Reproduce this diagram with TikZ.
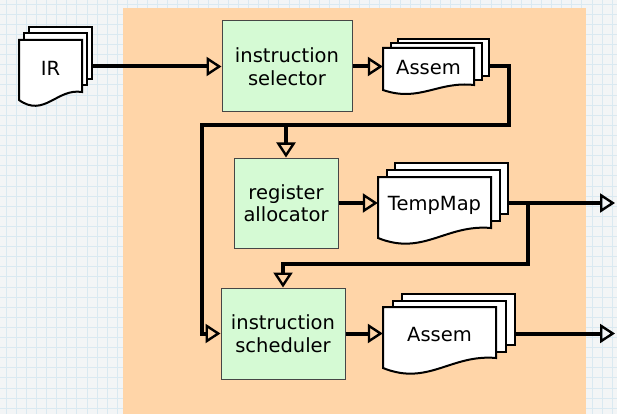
\documentclass[tikz,border=0pt]{standalone}
\usepackage{fontspec}
\setmainfont{DejaVu Sans}
\usetikzlibrary{arrows.meta,calc}
\definecolor{bgc}{RGB}{243,245,246}
\definecolor{gridc}{RGB}{218,233,241}
\definecolor{panel}{RGB}{255,213,168}
\definecolor{boxg}{RGB}{213,250,212}
\definecolor{boxb}{RGB}{70,70,70}
\tikzset{
  proc/.style={draw=boxb, line width=1pt, fill=boxg, align=center, inner sep=0pt, font=\fontsize{19.5}{22.5}\selectfont},
  docpage/.style={draw=black, line width=2pt, fill=white, line join=miter},
  doctext/.style={inner sep=0pt, font=\fontsize{19.5}{22.5}\selectfont},
  flow/.style={line width=4pt, draw=black, line join=miter, -{Triangle[open, length=15pt, width=19pt, line width=2.4pt]}},
}
\newcommand\docstack[9]{%
  \draw[docpage] ({#2+2*#7},{#3-2*#8}) rectangle ({#2+#4+2*#7},{#6-2*#8});
  \draw[docpage] ({#2+#7},{#3-#8}) rectangle ({#2+#4+#7},{#6-#8});
  \draw[docpage] (#2,#3) -- ({#2+#4},#3) -- ({#2+#4},#6) .. controls ({#2+0.6*#4},{#6-4}) and ({#2+0.4*#4},{#5+0.3*(#5-#3)}) .. (#2,#5) -- cycle;
  \node[doctext, minimum width={#4*1pt}, minimum height={((#5+#6)/2-#3)*1pt}] (#1) at ({#2+#4/2},{(#3+(#5+#6)/2)/2}) {#9};
  \coordinate (#1-r) at ({#2+#4+2*#7},{(#3+(#5+#6)/2)/2});
}
\begin{document}
\begin{tikzpicture}[x=1pt,y=-1pt]
\useasboundingbox (0,0) rectangle (617,414);
\fill[bgc] (0,0) rectangle (617,414);
\foreach \i in {0,...,61} \draw[gridc, line width=0.6pt] ({6+10.1*\i},0) -- ({6+10.1*\i},414);
\foreach \i in {0,...,41} \draw[gridc, line width=0.6pt] (0,{4+10.1*\i}) -- (617,{4+10.1*\i});
\fill[panel] (123,8) rectangle (586,414);

\node[proc, minimum width=130pt, minimum height=91pt] (sel) at (287,66.5) {instruction\\selector};
\node[proc, minimum width=104pt, minimum height=90pt] (reg) at (286,203) {register\\allocator};
\node[proc, minimum width=124pt, minimum height=91pt] (sch) at (283,333.5) {instruction\\scheduler};

\docstack{ir}{19}{40}{63}{100}{92}{5}{6.5}{IR}
\docstack{asa}{383}{48}{91}{90}{85}{7.5}{4.5}{Assem}
\docstack{tm}{378}{177}{113}{238}{228}{8.5}{7}{TempMap}
\docstack{asb}{383}{307}{113}{368}{358}{9.5}{6.5}{Assem}

\coordinate (o1) at (615,203);
\coordinate (o2) at (615,333.5);
\coordinate (k1) at (509,125);
\coordinate (k2) at (202,125);
\coordinate (k3) at (528,264);

\draw[flow] (ir-r |- sel.west) -- (sel.west);
\draw[flow] (sel.east) -- (sel.east -| asa.west);
\draw[flow] (asa-r |- sel.east) -| (k1) -- (k2) |- (sch.west);
\draw[flow] (reg.north |- k1) -- (reg.north);
\draw[flow] (reg.east) -- (reg.east -| tm.west);
\draw[flow] (tm-r |- reg.east) -- (o1);
\draw[flow] (k3 |- reg.east) -- (k3) -| (sch.north);
\draw[flow] (sch.east) -- (sch.east -| asb.west);
\draw[flow] (asb-r |- sch.east) -- (o2);
\end{tikzpicture}
\end{document}
